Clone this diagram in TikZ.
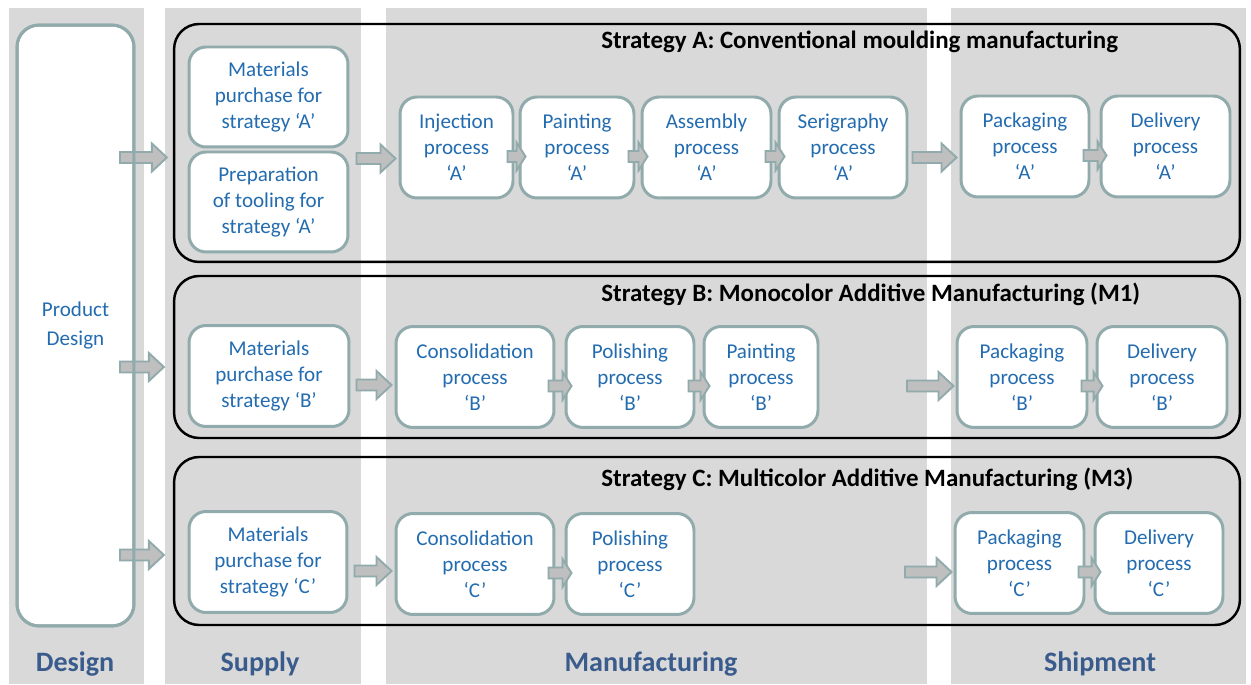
\documentclass[tikz,border=0pt]{standalone}
\usepackage{fontspec}
\setmainfont{Carlito}
\usetikzlibrary{calc}
\definecolor{colback}{RGB}{217,217,217}
\definecolor{boxline}{RGB}{145,170,172}
\definecolor{boxtext}{RGB}{36,108,176}
\definecolor{phasetext}{RGB}{58,92,140}
\definecolor{arrowfill}{RGB}{191,191,191}

% block arrow, drawn at the height of the start point
\newcommand{\blockarrow}[3][0.3cm]{%
  \draw[flowarrow] let \p1=#2, \p2=#3 in
    (\x1,\y1+0.11cm) -- (\x2-#1,\y1+0.11cm) -- (\x2-#1,\y1+0.28cm)
    -- (\x2,\y1) -- (\x2-#1,\y1-0.28cm) -- (\x2-#1,\y1-0.11cm)
    -- (\x1,\y1-0.11cm) -- cycle;}

\begin{document}
\begin{tikzpicture}[x=0.02cm,y=-0.02cm,
  procbox/.style={draw=boxline,line width=1.7pt,fill=white,rounded corners=0.34cm,
    align=center,text=boxtext,font=\fontsize{12}{14.7}\selectfont,
    minimum height=2.02cm,inner sep=0pt},
  stratbox/.style={draw=black,line width=1.4pt,rounded corners=0.5cm,minimum width=21.32cm},
  strattitle/.style={anchor=west,inner sep=0pt,font=\fontsize{14.2}{16}\selectfont\bfseries},
  phase/.style={text=phasetext,font=\fontsize{16}{18}\selectfont\bfseries},
  flowarrow/.style={draw=boxline,line width=1.1pt,fill=arrowfill}]
\useasboundingbox (0,0) rectangle (1251,685);

% phase columns
\fill[colback] (9,8) rectangle (144,684);
\fill[colback] (165,8) rectangle (361,684);
\fill[colback] (386,8) rectangle (927,684);
\fill[colback] (951,8) rectangle (1246,684);
\node[phase] (design) at (75,664) {Design};
\node[phase] (supply) at (260,664) {Supply};
\node[phase] (manuf) at (651,664) {Manufacturing};
\node[phase] (shipm) at (1100,664) {Shipment};

% strategies
\node[stratbox,minimum height=4.76cm] (stratA) at (707,143) {};
\node[stratbox,minimum height=3.24cm] (stratB) at (707,357) {};
\node[stratbox,minimum height=3.36cm] (stratC) at (707,541) {};
\node[strattitle] (titleA) at (601,42) {Strategy A: Conventional moulding manufacturing};
\node[strattitle] (titleB) at (601,294) {Strategy B: Monocolor Additive Manufacturing (M1)};
\node[strattitle] (titleC) at (601,479) {Strategy C: Multicolor Additive Manufacturing (M3)};

\node[procbox,minimum width=2.34cm,minimum height=12.02cm,rounded corners=0.44cm,outer sep=0pt,
  font=\fontsize{12}{16}\selectfont] (pdesign) at (75.5,325.5) {Product\\Design};

% strategy A
\node[procbox,minimum width=3.18cm,minimum height=2cm] (matA) at (268.5,97) {Materials\\purchase for\\strategy ‘A’};
\node[procbox,minimum width=3.18cm,minimum height=2cm] (prepA) at (268.5,202) {Preparation\\of tooling for\\strategy ‘A’};
\node[procbox,minimum width=2.26cm] (injA) at (456.5,147.5) {Injection\\process\\‘A’};
\node[procbox,minimum width=2.28cm] (paintA) at (577,147.5) {Painting\\process\\‘A’};
\node[procbox,minimum width=2.58cm] (assA) at (706.5,147.5) {Assembly\\process\\‘A’};
\node[procbox,minimum width=2.56cm] (serA) at (843,147.5) {Serigraphy\\process\\‘A’};
\node[procbox,minimum width=2.56cm] (packA) at (1025,146.5) {Packaging\\process\\‘A’};
\node[procbox,minimum width=2.58cm] (delA) at (1165.5,146.5) {Delivery\\process\\‘A’};

% strategy B
\node[procbox,minimum width=3.2cm] (matB) at (269,376) {Materials\\purchase for\\strategy ‘B’};
\node[procbox,minimum width=3.16cm] (consB) at (475,377) {Consolidation\\process\\‘B’};
\node[procbox,minimum width=2.56cm] (polB) at (630,377) {Polishing\\process\\‘B’};
\node[procbox,minimum width=2.28cm] (paintB) at (761,377) {Painting\\process\\‘B’};
\node[procbox,minimum width=2.6cm] (packB) at (1022,377) {Packaging\\process\\‘B’};
\node[procbox,minimum width=2.6cm] (delB) at (1162,377) {Delivery\\process\\‘B’};

% strategy C
\node[procbox,minimum width=3.16cm] (matC) at (268,562) {Materials\\purchase for\\strategy ‘C’};
\node[procbox,minimum width=3.16cm] (consC) at (475,564) {Consolidation\\process\\‘C’};
\node[procbox,minimum width=2.56cm] (polC) at (630,564) {Polishing\\process\\‘C’};
\node[procbox,minimum width=2.58cm] (packC) at (1019.5,563) {Packaging\\process\\‘C’};
\node[procbox,minimum width=2.56cm] (delC) at (1159,563) {Delivery\\process\\‘C’};

\coordinate (freeB) at (907,386);
\coordinate (freeC) at (905,572);

% arrows
\blockarrow{($(pdesign.east |- injA.west)+(-14,10)$)}{($(stratA.west)+(-6,0)$)}
\blockarrow{($(pdesign.east |- stratB.west)+(-14,10)$)}{($(stratB.west)+(-9,0)$)}
\blockarrow{($(pdesign.east |- stratC.west)+(-14,14)$)}{($(stratC.west)+(-9,0)$)}
\draw[boxline,line width=1.7pt,rounded corners=0.44cm] (pdesign.north west) rectangle (pdesign.south east);
\blockarrow{($(matA.east |- injA.west)+(7,11)$)}{($(injA.west)+(-3,0)$)}
\blockarrow{($(serA.east)+(4,10)$)}{($(packA.west)+(-3,0)$)}
\blockarrow{($(matB.east)+(6,9)$)}{($(consB.west)+(-3,0)$)}
\blockarrow{(freeB)}{($(packB.west)+(-2,0)$)}
\blockarrow{($(matC.east)+(6,9)$)}{($(consC.west)+(-3,0)$)}
\blockarrow{(freeC)}{($(packC.west)+(-2,0)$)}
\foreach \a/\b in {injA/paintA,paintA/assA,assA/serA,packA/delA,consB/polB,polB/paintB,packB/delB,consC/polC,packC/delC}
  {\blockarrow[0.18cm]{($(\a.east)+(-7,9)$)}{($(\b.west)+(7,0)$)}}
\end{tikzpicture}
\end{document}
